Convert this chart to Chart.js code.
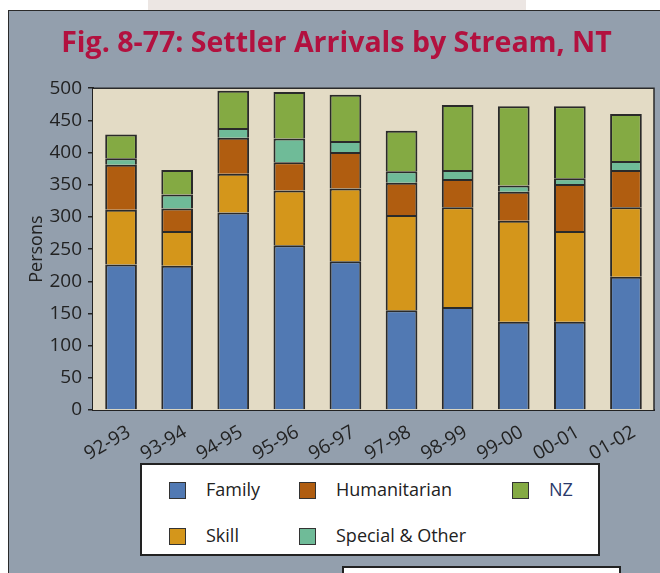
<!DOCTYPE html>
<html>
<head>
<meta charset="utf-8">
<script src="https://cdn.jsdelivr.net/npm/chart.js@4/dist/chart.umd.min.js"></script>
<style>
  body { margin: 0; background: #fff; font-family: "Open Sans", sans-serif; }
  #wrap { position: relative; width: 660px; height: 573px; overflow: hidden; }
  #strip { position: absolute; left: 148px; top: 0; width: 378px; height: 11px; background: #ece6e3; }
  #frame { position: absolute; left: 8px; top: 10px; width: 700px; height: 620px; background: #939fad; border: 1.5px solid #2a2a2a; }
  #chart { position: absolute; left: 0; top: 0; }
  #legend { position: absolute; left: 140px; top: 463px; width: 456px; height: 89px; background: #fff; border: 2px solid #222; }
  .item { position: absolute; font-size: 18px; color: #222; line-height: 20px; }
  .item span.sw { position: absolute; left: 0; top: 1px; width: 15px; height: 15px; border: 1.5px solid #333; }
  .item span.tx { position: absolute; left: 37px; top: -2px; white-space: nowrap; }
  #box2 { position: absolute; left: 342px; top: 566px; width: 275px; height: 20px; background: #fff; border: 2px solid #222; }
</style>
</head>
<body>
<div id="wrap">
  <div id="strip"></div>
  <div id="frame"></div>
  <canvas id="chart" width="660" height="573"></canvas>
  <div id="legend"></div>
  <div id="box2"></div>
</div>
<script>
var years = ["92-93", "93-94", "94-95", "95-96", "96-97", "97-98", "98-99", "99-00", "00-01", "01-02"];
var family       = [226, 224, 307, 256, 231, 155, 160, 137, 137, 207];
var skill        = [ 85,  54,  60,  85, 113, 148, 155, 157, 141, 108];
var humanitarian = [ 70,  35,  56,  44,  57,  50,  44,  45,  73,  58];
var special      = [ 10,  22,  15,  37,  17,  18,  14,  10,   9,  14];
var nz           = [ 37,  38,  58,  72,  72,  63, 101, 123, 112,  73];
var yTicks = [0, 50, 100, 150, 200, 250, 300, 350, 400, 450, 500];

var names  = ["Family", "Skill", "Humanitarian", "Special & Other", "NZ"];
var colors = ["#5179b3", "#d4961b", "#b05d10", "#6fbb98", "#84aa43"];
var values = [family, skill, humanitarian, special, nz];

var datasets = [];
for (var i in names) {
	datasets.push({
		label: names[i],
		data: values[i],
		backgroundColor: colors[i],
		borderColor: "#2a2a2a",
		borderWidth: 2,
		borderSkipped: "bottom",
		barPercentage: 0.565,
		categoryPercentage: 1.0
	});
}

var plotFrame = {
	id: "plotFrame",
	beforeDatasetsDraw: function(chart) {
		var a = chart.chartArea, c = chart.ctx;
		c.save();
		c.fillStyle = "#e3dbc5";
		c.fillRect(a.left, a.top, a.right - a.left, a.bottom - a.top);
		c.restore();
	},
	afterDatasetsDraw: function(chart) {
		var a = chart.chartArea, c = chart.ctx;
		c.save();
		c.strokeStyle = "#2a2a2a";
		c.lineWidth = 1.5;
		c.beginPath();
		c.moveTo(a.left, a.top);
		c.lineTo(a.right, a.top);
		c.lineTo(a.right, a.bottom);
		c.stroke();
		c.restore();
	}
};

var chart = new Chart(document.getElementById("chart"), {
	type: "bar",
	data: { labels: years, datasets: datasets },
	plugins: [plotFrame],
	options: {
		responsive: false,
		animation: false,
		layout: { padding: { left: 19, right: 6, top: 0, bottom: 108 } },
		plugins: {
			legend: { display: false },
			tooltip: { enabled: false },
			title: {
				display: true,
				text: "Fig. 8-77: Settler Arrivals by Stream, NT",
				color: "#b2113f",
				font: { family: "Open Sans", size: 28.5, weight: "bold" },
				padding: { top: 27, bottom: 27 }
			}
		},
		scales: {
			x: {
				stacked: true,
				grid: { display: false },
				border: { color: "#222", width: 2 },
				ticks: {
					color: "#222",
					font: { family: "Open Sans", size: 19 },
					autoSkip: false,
					maxRotation: 30, minRotation: 30,
					labelOffset: 8,
					padding: 3
				},
				afterFit: function(s) { s.height = 55; }
			},
			y: {
				stacked: true,
				min: 0, max: 500,
				afterBuildTicks: function(s) { s.ticks = yTicks.map(function(v) { return { value: v }; }); },
				grid: { drawOnChartArea: false, tickLength: 5, color: "#222", lineWidth: 1.5 },
				border: { color: "#222", width: 2 },
				ticks: {
					color: "#222",
					font: { family: "Open Sans", size: 19 },
					padding: 6
				},
				title: {
					display: true,
					text: "Persons",
					color: "#222",
					font: { family: "Open Sans", size: 18 },
					padding: { top: 7, bottom: 0 }
				},
				afterFit: function(s) { s.width = 74; }
			}
		}
	}
});

// legend built from the chart's datasets
var legendPos = [[27, 16], [27, 62], [157, 16], [157, 62], [370, 16]];
var legendOrder = [0, 1, 2, 3, 4];
var lg = document.getElementById("legend");
legendOrder.forEach(function(k, n) {
	var ds = chart.data.datasets[k];
	var d = document.createElement("div");
	d.className = "item";
	d.style.left = legendPos[n][0] + "px";
	d.style.top = legendPos[n][1] + "px";
	d.innerHTML = '<span class="sw" style="background:' + ds.backgroundColor + '"></span><span class="tx"' +
		(ds.label === "NZ" ? ' style="color:#2b3a6b"' : '') + '>' + ds.label.replace("&", "&amp;") + '</span>';
	lg.appendChild(d);
});
</script>
</body>
</html>
